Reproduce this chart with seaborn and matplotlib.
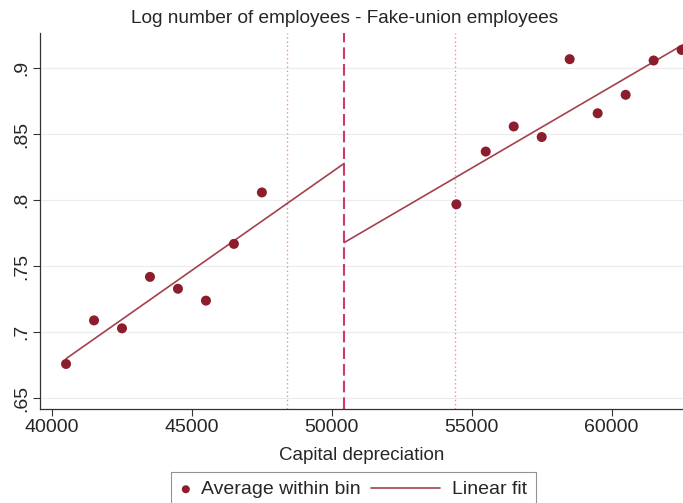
import numpy as np
import pandas as pd
import matplotlib.pyplot as plt
import seaborn as sns
from matplotlib.legend_handler import HandlerLine2D, HandlerPathCollection

# binned averages
left_x = [40500, 41500, 42500, 43500, 44500, 45500, 46500, 47500]
left_y = [0.676, 0.709, 0.703, 0.742, 0.733, 0.724, 0.767, 0.806]
right_x = [54450, 55500, 56500, 57500, 58500, 59500, 60500, 61500, 62500]
right_y = [0.797, 0.837, 0.856, 0.848, 0.907, 0.866, 0.880, 0.906, 0.914]

# linear fit endpoints on each side of the cutoff
fit_left_x = [40500, 50440]
fit_left_y = [0.680, 0.828]
fit_right_x = [50440, 62550]
fit_right_y = [0.768, 0.918]

cutoff = 50440
bandwidth_lines = [48390, 54400]

y_ticks = [0.65, 0.7, 0.75, 0.8, 0.85, 0.9]
y_ticklabels = [".65", ".7", ".75", ".8", ".85", ".9"]
x_ticks = [40000, 45000, 50000, 55000, 60000]

dots = pd.DataFrame({"x": left_x + right_x, "y": left_y + right_y})


# legend handlers: dot sits at the left, line stretches back into the gap
class LeftDot(HandlerPathCollection):
    def get_xdata(self, legend, xdescent, ydescent, width, height, fontsize):
        x = [-xdescent + 0.39 * width]
        return x, x


class LongLine(HandlerLine2D):
    def get_xdata(self, legend, xdescent, ydescent, width, height, fontsize):
        x = np.array([-xdescent + width - 54, -xdescent + width - 4.3])
        return x, x


sns.set_style("white")
plt.rcParams['font.family'] = ['Liberation Sans', 'DejaVu Sans']

fig = plt.figure(figsize=(6.83, 5.03), dpi=100)
ax = fig.add_axes([0.059, 0.187, 0.941, 0.747])

dot_color = "#8c1d2c"
line_color = "#a3414c"

for yv in y_ticks:
    ax.axhline(yv, color="#ececec", lw=0.8, zorder=0)

sns.scatterplot(data=dots, x="x", y="y", color=dot_color, s=52,
                edgecolor="none", ax=ax, zorder=3)
sns.lineplot(x=fit_left_x, y=fit_left_y, color=line_color, lw=1.2, ax=ax, zorder=2)
sns.lineplot(x=fit_right_x, y=fit_right_y, color=line_color, lw=1.2, ax=ax, zorder=2)

ax.axvline(cutoff, color="#d2386c", lw=1.5, ls=(0, (5.6, 2.4)), zorder=1)
for b in bandwidth_lines:
    ax.axvline(b, color="#eb90ad", lw=1.0, ls=(0, (1, 2)), zorder=1)

ax.set_xlim(39580, 62550)
ax.set_ylim(0.6419, 0.9267)
ax.set_xticks(x_ticks)
ax.set_yticks(y_ticks)
ax.set_yticklabels(y_ticklabels, rotation=90, va="center")
ax.tick_params(axis="both", labelsize=14, length=5, color="#333333",
               left=True, bottom=True, pad=2)
ax.set_xlabel("Capital depreciation", fontsize=13.5, labelpad=8)
ax.set_ylabel("")
ax.set_title("Log number of employees - Fake-union employees", fontsize=13.7,
             pad=7, x=0.474)

for side in ["top", "right"]:
    ax.spines[side].set_visible(False)
for side in ["left", "bottom"]:
    ax.spines[side].set_color("#333333")
    ax.spines[side].set_linewidth(0.9)

# legend
lines = ax.get_lines()
handles = [ax.collections[0], lines[len(y_ticks)]]
leg = ax.legend(handles, ["Average within bin", "Linear fit"],
                handler_map={type(handles[0]): LeftDot(),
                             type(handles[1]): LongLine()},
                loc="upper left", bbox_to_anchor=(171 / 683, 1 - 472 / 503),
                bbox_transform=fig.transFigure, borderaxespad=0,
                ncol=2, frameon=True, fancybox=False, fontsize=14,
                handlelength=0.8, handletextpad=0.3, columnspacing=3.6,
                borderpad=0.45, markerscale=0.8)
leg.get_frame().set_edgecolor("#777777")
leg.get_frame().set_linewidth(0.8)

fig.savefig("out.png", dpi=100)
